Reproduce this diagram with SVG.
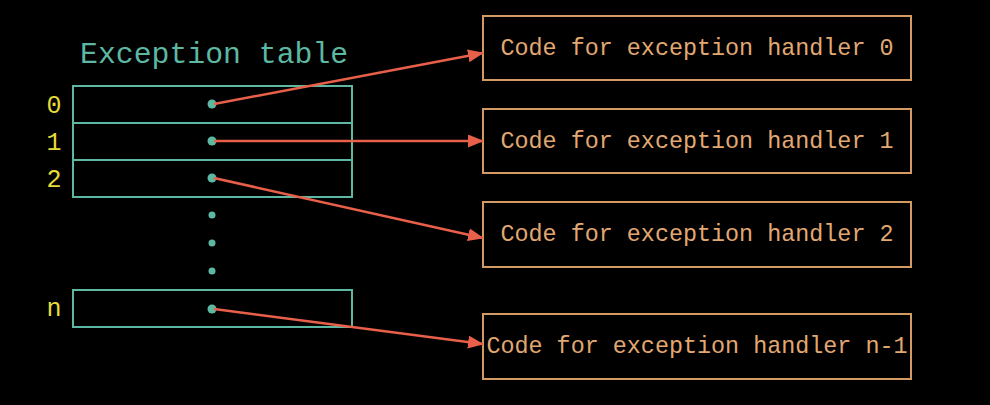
<svg xmlns="http://www.w3.org/2000/svg" width="990" height="405" viewBox="0 0 990 405">
<defs>
<style>
.tbl{fill:none;stroke:#5db8a3;stroke-width:2}
.dot{fill:#5db8a3}
.idx{font-family:"Liberation Mono",monospace;font-size:25px;fill:#e6dc3a;text-anchor:middle}
.title{font-family:"Liberation Mono",monospace;font-size:29.8px;fill:#5db8a3}
.hbox{fill:none;stroke:#d49a64;stroke-width:2}
.htxt{font-family:"Liberation Mono",monospace;font-size:23.4px;fill:#e2a872;text-anchor:middle}
.conn{stroke:#e8604a;stroke-width:2.5;fill:none}
</style>
<marker id="ah" markerWidth="16" markerHeight="13" refX="15" refY="6.5" orient="auto" markerUnits="userSpaceOnUse">
<path d="M0,0 L16,6.5 L0,13 z" fill="#e8604a"/>
</marker>
</defs>
<rect width="990" height="405" fill="#000"/>
<g id="table">
<text class="title" x="80" y="63">Exception table</text>
<rect class="tbl" x="73" y="86" width="279" height="111"/>
<line class="tbl" x1="73" y1="123" x2="352" y2="123"/>
<line class="tbl" x1="73" y1="160" x2="352" y2="160"/>
<rect class="tbl" x="73" y="290" width="279" height="37"/>
<text class="idx" x="54" y="113">0</text>
<text class="idx" x="54" y="150">1</text>
<text class="idx" x="54" y="187">2</text>
<text class="idx" x="54" y="316">n</text>
<circle class="dot" cx="212" cy="104" r="4.5"/>
<circle class="dot" cx="212" cy="141" r="4.5"/>
<circle class="dot" cx="212" cy="178" r="4.5"/>
<circle class="dot" cx="212" cy="215" r="3.5"/>
<circle class="dot" cx="212" cy="243" r="3.5"/>
<circle class="dot" cx="212" cy="271" r="3.5"/>
<circle class="dot" cx="212" cy="309" r="4.5"/>
</g>
<g id="handler0">
<rect class="hbox" x="483" y="16" width="428" height="64"/>
<text class="htxt" x="697" y="55">Code for exception handler 0</text>
</g>
<g id="handler1">
<rect class="hbox" x="483" y="109" width="428" height="64"/>
<text class="htxt" x="697" y="148">Code for exception handler 1</text>
</g>
<g id="handler2">
<rect class="hbox" x="483" y="202" width="428" height="65"/>
<text class="htxt" x="697" y="241">Code for exception handler 2</text>
</g>
<g id="handlern">
<rect class="hbox" x="483" y="314" width="428" height="65"/>
<text class="htxt" x="697" y="353">Code for exception handler n-1</text>
</g>
<g id="connectors">
<line class="conn" x1="214" y1="104" x2="483" y2="53" marker-end="url(#ah)"/>
<line class="conn" x1="214" y1="141" x2="483" y2="141" marker-end="url(#ah)"/>
<line class="conn" x1="214" y1="178" x2="483" y2="238" marker-end="url(#ah)"/>
<line class="conn" x1="214" y1="309" x2="483" y2="344" marker-end="url(#ah)"/>
</g>
</svg>
